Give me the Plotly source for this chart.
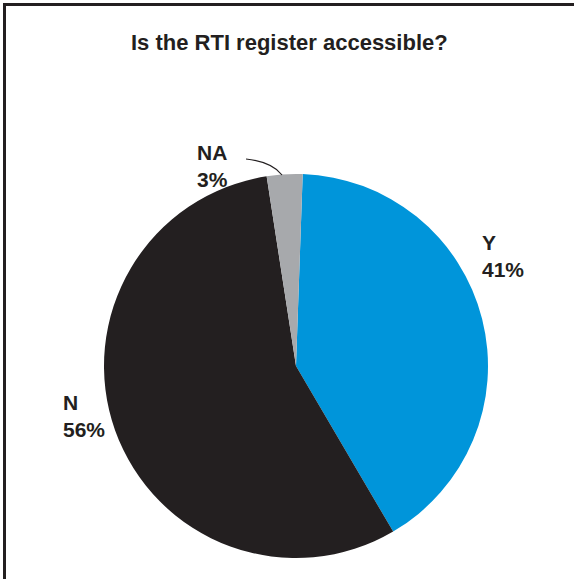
import plotly.graph_objects as go

# Survey answers and their shares (percent)
categories = ["Y", "N", "NA"]
shares = [41, 56, 3]
colors = ["#0095DA", "#231F20", "#A7A9AC"]

W, H = 574, 579


def px(x, y):
    """Pixel position -> paper coordinates."""
    return x / W, 1 - y / H


FONT = "Arial, Liberation Sans, Helvetica, sans-serif"

fig = go.Figure(
    go.Pie(
        labels=categories,
        values=shares,
        sort=False,
        direction="clockwise",
        rotation=2,
        marker=dict(colors=colors, line=dict(width=0)),
        textinfo="none",
        hoverinfo="label+percent",
        showlegend=False,
        domain=dict(x=[104 / W, 488 / W], y=[1 - 558 / H, 1 - 174 / H]),
    )
)

# Outside labels: category name over its share
label_pos = {"Y": (480, 229), "N": (61, 389), "NA": (195, 139)}
annotations = []
for cat, val in zip(categories, shares):
    x, y = px(*label_pos[cat])
    annotations.append(
        dict(
            x=x, y=y, xref="paper", yref="paper",
            xanchor="left", yanchor="top", align="left",
            text=f"<b>{cat}</b><br><b>{val}%</b>",
            showarrow=False,
            font=dict(family=FONT, size=21, color="#231F20"),
        )
    )

# Title
tx, ty = px(289, 42)
annotations.append(
    dict(
        x=tx, y=ty, xref="paper", yref="paper",
        xanchor="center", yanchor="middle",
        text="<b>Is the RTI register accessible?</b>",
        showarrow=False,
        font=dict(family=FONT, size=22, color="#231F20"),
    )
)

# Leader line for the small slice, plus the frame edges
x0, y0 = px(246, 159)
xc, yc = px(272, 162)
x1, y1 = px(282, 175)
shapes = [
    dict(type="path", xref="paper", yref="paper",
         path=f"M {x0},{y0} Q {xc},{yc} {x1},{y1}",
         line=dict(color="#231F20", width=1.2)),
    dict(type="line", xref="paper", yref="paper",
         x0=4.5 / W, x1=4.5 / W, y0=0, y1=1 - 3 / H,
         line=dict(color="#231F20", width=3)),
    dict(type="line", xref="paper", yref="paper",
         x0=3 / W, x1=1, y0=1 - 4.5 / H, y1=1 - 4.5 / H,
         line=dict(color="#231F20", width=3)),
]

fig.update_layout(
    width=W, height=H,
    margin=dict(l=0, r=0, t=0, b=0),
    paper_bgcolor="white",
    plot_bgcolor="white",
    annotations=annotations,
    shapes=shapes,
)

fig.write_html("out.html")
